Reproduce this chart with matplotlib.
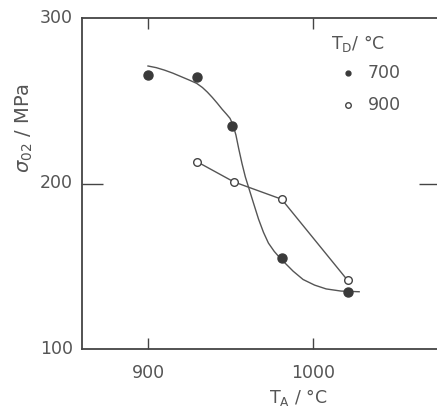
import matplotlib
matplotlib.use("Agg")
import matplotlib.pyplot as plt

# measured points
x_700 = [900, 930, 951, 981, 1021]
y_700 = [265.5, 264.5, 235, 155, 134.5]
x_900 = [930, 952, 981, 1021]
y_900 = [213, 201, 190.5, 141.5]

# hand-drawn fit curve for 700 series
curve_700_x = [900, 905, 910, 915, 920, 925, 929.5, 933, 936, 939, 942, 945, 947.5, 949.7, 951.5,
               953.3, 955, 957, 959, 961.5, 964, 967, 970, 973, 976.5, 980, 984, 988, 994, 1001,
               1008, 1017, 1028]
curve_700_y = [271, 270, 268.5, 266.7, 264.6, 262.5, 260.5, 258, 255.2, 252, 248.5, 244.8, 242, 239.4,
               235.5, 229.3, 221, 212, 204, 196, 188, 178.5, 170.5, 164, 159, 155, 151, 147, 142, 138.6,
               136.3, 135, 134.6]

xticks = [900, 1000]
yticks = [100, 200, 300]

fig = plt.figure(figsize=(4.37, 4.12), dpi=100)
ax = fig.add_axes([82/437, 63/412, 358/437, 331/412])
ax.set_xlim(860, 1077)
ax.set_ylim(100, 300)

col = "#3a3a3a"
tcol = "#555555"
fs = 12.5
ax.plot(curve_700_x, curve_700_y, color="#555555", lw=1.0, zorder=2)
ax.plot(x_900, y_900, color="#555555", lw=1.0, zorder=2)
ax.plot(x_700, y_700, linestyle="none", marker="o", ms=6.5, color=col, mec=col, zorder=3)
ax.plot(x_900, y_900, linestyle="none", marker="o", ms=5.5, mfc="white", mec="#444444", mew=1.0, zorder=3)

for s in ax.spines.values():
    s.set_color("#444444")
    s.set_linewidth(1.3)

ax.set_xticks(xticks)
ax.set_xticklabels([str(v) for v in xticks])
ax.set_yticks([200])
ax.set_yticklabels([])
ax.tick_params(axis="x", direction="in", length=8, width=1, color="#444444", top=True,
               labelsize=fs, labelcolor=tcol, pad=11)
ax.tick_params(axis="y", direction="in", length=15, width=1, color="#444444", right=True)

for v in yticks:
    ax.text(-0.025, (v - 100) / 200, str(v), transform=ax.transAxes, ha="right", va="center",
            fontsize=fs, color=tcol)

fig.text(298/437, 1 - 398/412, r"T$_\mathrm{A}$ / °C", ha="center", va="center", fontsize=12.5, color=tcol)
fig.text(24/437, 1 - 128/412, r"$\sigma_{02}$ / MPa", ha="center", va="center", rotation=90,
         fontsize=14, color=tcol)

# legend
fig.text(331/437, 1 - 43/412, r"T$_\mathrm{D}$/ °C", ha="left", va="center", fontsize=fs, color=tcol)
fig.text(368/437, 1 - 73/412, "700", ha="left", va="center", fontsize=fs, color=tcol)
fig.text(368/437, 1 - 105/412, "900", ha="left", va="center", fontsize=fs, color=tcol)
fig.lines.append(plt.Line2D([348/437], [1 - 73/412], transform=fig.transFigure, marker="o", ms=3.5,
                            color=col, linestyle="none"))
fig.lines.append(plt.Line2D([348/437], [1 - 105/412], transform=fig.transFigure, marker="o", ms=4,
                            mfc="white", mec="#444444", linestyle="none"))

fig.savefig("out.png", dpi=100)
